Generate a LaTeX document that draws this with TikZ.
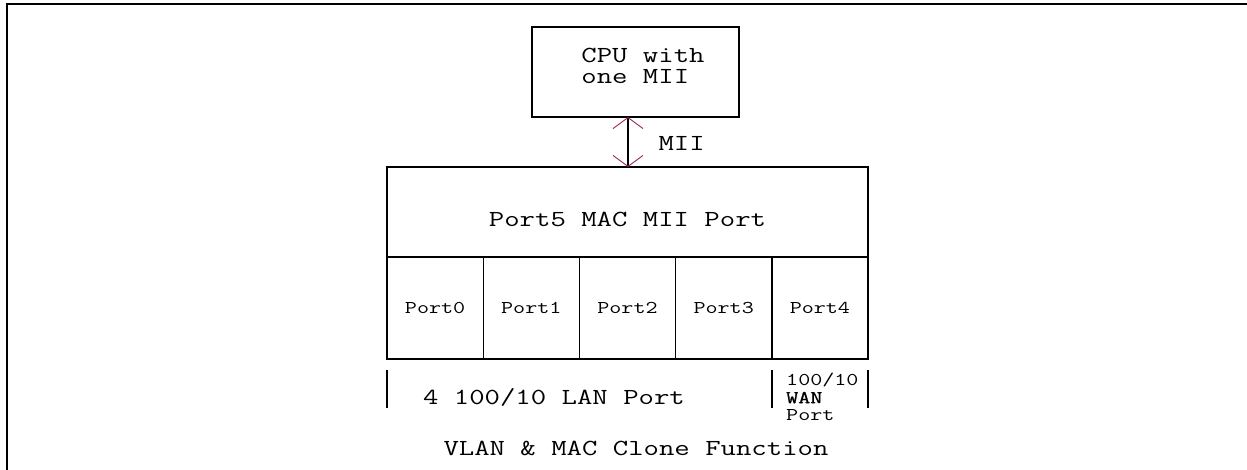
\documentclass[tikz,border=0pt]{standalone}
\usepackage{fontspec}
\usetikzlibrary{arrows.meta}
\newfontfamily\cour[FakeStretch=1.3]{Latin Modern Mono}
\newfontfamily\courb[FakeStretch=1.3,FakeBold=1.2]{Latin Modern Mono}
\definecolor{miicol}{RGB}{150,40,95}
\tikzset{miitip/.tip={Straight Barb[color=miicol,length=11pt,width=30pt,line width=0.9pt]}}
\begin{document}
\begin{tikzpicture}[x=1pt,y=-1pt,
  box/.style={draw,line width=1.4pt,inner sep=0pt,outer sep=0pt,align=center},
  bigtxt/.style={font=\cour\fontsize{23}{21}\selectfont},
  smalltxt/.style={font=\cour\fontsize{18}{17.5}\selectfont},
  portbox/.style={box,smalltxt,minimum width=96.2pt,minimum height=102pt},
  bar/.style={line width=1.3pt}
]
\useasboundingbox (0,0) rectangle (1247,470);
% outer frame (top and left edges)
\draw[line width=1.4pt] (7,470) -- (7,4) -- (1247,4);
% CPU
\node[box,minimum width=207pt,minimum height=90pt,anchor=north west] (cpu) at (532,27) {};
\node[bigtxt,align=left] (cputxt) at (643,66) {CPU with\\one MII};
% Port5
\node[box,minimum width=481pt,minimum height=90pt,anchor=north west] (p5) at (387,167) {};
\node[bigtxt] (p5txt) at (627.5,219) {Port5 MAC MII Port};
% ports
\foreach \i/\x in {0/387,1/483.2,2/579.4,3/675.6,4/771.8}{
  \node[portbox,anchor=north west] (port\i) at (\x,257) {Port\i};
}
% MII link
\draw[line width=1.3pt,miitip-miitip] (cpu.south -| 628,0) -- (p5.north -| 628,0);
\node[bigtxt,anchor=west] (mii) at (655,143) {MII};
% bottom labels
\coordinate (b1t) at (387,370); \coordinate (b1b) at (387,408);
\coordinate (b2t) at (772,370); \coordinate (b2b) at (772,408);
\coordinate (b3t) at (868,370); \coordinate (b3b) at (868,408);
\draw[bar] (b1t) -- (b1b);
\draw[bar] (b2t) -- (b2b);
\draw[bar] (b3t) -- (b3b);
\node[bigtxt] (lan) at (554,397) {4 100/10 LAN Port};
\node[smalltxt,align=left,anchor=north west,inner sep=0pt] (wan) at (786,373) {100/10\\{\courb WAN}\\Port};
\node[bigtxt] (title) at (636,448) {VLAN \& MAC Clone Function};
\end{tikzpicture}
\end{document}
